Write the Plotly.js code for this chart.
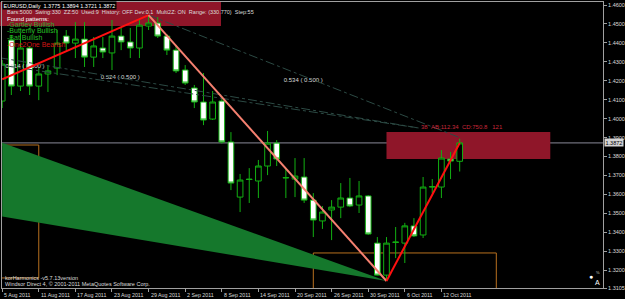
<!DOCTYPE html>
<html><head><meta charset="utf-8">
<script src="https://cdn.plot.ly/plotly-3.0.1.min.js"></script>
<style>html,body{margin:0;padding:0;background:#000;}#chart{width:625px;height:299px;}</style>
</head><body><div id="chart"></div>
<script>
// ---- data ----
const dates = ['2011-08-05','2011-08-08','2011-08-09','2011-08-10','2011-08-11','2011-08-12','2011-08-15','2011-08-16','2011-08-17','2011-08-18','2011-08-19','2011-08-22','2011-08-23','2011-08-24','2011-08-25','2011-08-26','2011-08-29','2011-08-30','2011-08-31','2011-09-01','2011-09-02','2011-09-05','2011-09-06','2011-09-07','2011-09-08','2011-09-09','2011-09-12','2011-09-13','2011-09-14','2011-09-15','2011-09-16','2011-09-19','2011-09-20','2011-09-21','2011-09-22','2011-09-23','2011-09-26','2011-09-27','2011-09-28','2011-09-29','2011-09-30','2011-10-03','2011-10-04','2011-10-05','2011-10-06','2011-10-07','2011-10-10','2011-10-11','2011-10-12','2011-10-13','2011-10-14'];
const open  = [1.4093,1.4415,1.4172,1.4373,1.4172,1.4236,1.4267,1.4436,1.4399,1.4420,1.4325,1.4373,1.4347,1.4436,1.4405,1.4373,1.4489,1.4505,1.4436,1.4362,1.4257,1.4162,1.4088,1.3998,1.4093,1.3877,1.3586,1.3681,1.3671,1.3750,1.3871,1.3687,1.3681,1.3692,1.3570,1.3460,1.3518,1.3533,1.3581,1.3544,1.3592,1.3343,1.3174,1.3349,1.3343,1.3434,1.3386,1.3639,1.3639,1.3787,1.3775];
const high  = [1.4310,1.4442,1.4452,1.4384,1.4267,1.4283,1.4468,1.4468,1.4510,1.4510,1.4431,1.4431,1.4521,1.4479,1.4479,1.4531,1.4547,1.4537,1.4447,1.4389,1.4283,1.4178,1.4241,1.4146,1.4109,1.3929,1.3708,1.3739,1.3782,1.3935,1.3887,1.3739,1.3792,1.3792,1.3607,1.3539,1.3570,1.3660,1.3687,1.3671,1.3597,1.3375,1.3375,1.3428,1.3450,1.3475,1.3692,1.3681,1.3834,1.3824,1.3894];
const low   = [1.4056,1.4125,1.4146,1.4125,1.4098,1.4141,1.4230,1.4362,1.4320,1.4273,1.4273,1.4320,1.4257,1.4362,1.4320,1.4320,1.4468,1.4426,1.4336,1.4241,1.4178,1.4056,1.3966,1.3993,1.3869,1.3623,1.3507,1.3555,1.3581,1.3702,1.3750,1.3581,1.3586,1.3555,1.3375,1.3418,1.3359,1.3475,1.3533,1.3502,1.3386,1.3172,1.3143,1.3264,1.3238,1.3375,1.3370,1.3607,1.3581,1.3681,1.3721];
const close = [1.4288,1.4172,1.4373,1.4172,1.4236,1.4252,1.4399,1.4399,1.4420,1.4325,1.4384,1.4352,1.4436,1.4405,1.4373,1.4494,1.4505,1.4436,1.4362,1.4252,1.4188,1.4088,1.3993,1.4088,1.3877,1.3660,1.3676,1.3679,1.3750,1.3871,1.3787,1.3689,1.3697,1.3570,1.3465,1.3507,1.3533,1.3581,1.3539,1.3592,1.3391,1.3174,1.3343,1.3347,1.3434,1.3381,1.3639,1.3641,1.3792,1.3776,1.3872];

const tickDates  = ['2011-08-05','2011-08-11','2011-08-17','2011-08-23','2011-08-29','2011-09-02','2011-09-08','2011-09-14','2011-09-20','2011-09-26','2011-09-30','2011-10-06','2011-10-12'];
const tickLabels = ['5 Aug 2011','11 Aug 2011','17 Aug 2011','23 Aug 2011','29 Aug 2011','2 Sep 2011','8 Sep 2011','14 Sep 2011','20 Sep 2011','26 Sep 2011','30 Sep 2011','6 Oct 2011','12 Oct 2011'];
const priceTicks = [1.32,1.33,1.34,1.35,1.36,1.37,1.38,1.39,1.40,1.41,1.42,1.43,1.44,1.45,1.46];
const priceTickLabels = ['1.3200','1.3300','1.3400','1.3500','1.3600','1.3700','1.3800','1.3900','1.4000','1.4100','1.4200','1.4300','1.4400','1.4500','1.4600'];
const bottomPrice = 1.3106, bottomPriceLabel = '1.3105';

// pattern drawing objects (bar index, price)
const xaBar = [0, 16],  xaPrice = [1.4208, 1.4547];
const adBar = [16, 42], adPrice = [1.4547, 1.3143];
const dcBar = [42, 50], dcPrice = [1.3143, 1.3872];
const dashA_Bar = [-19.7, 45.5], dashA_Price = [1.4479, 1.3951];
const dashB_Bar = [-40.4, 45.5], dashB_Price = [1.4576, 1.3951];
const dashC_Bar = [16, 50],      dashC_Price = [1.4547, 1.3900];
const triBar = [0, 42, 0], triPrice = [1.3873, 1.3143, 1.3484];
const ratioText  = ['0.514 ( 0.500 )', '0.524 ( 0.500 )', '0.534 ( 0.500 )'];
const ratioBar   = [2.5, 12.9, 32.9];
const ratioPrice = [1.4273, 1.4215, 1.4199];
const przBar = [42, 59.9], przPrice = [1.3787, 1.3929];
const rect1Bar = [-3, 4],  rect1Price = [1.3159, 1.3861];
const rect2Bar = [34, 54], rect2Price = [1.2900, 1.3291];
const przText = '38\u00a0\u00a0AB:112.34\u00a0\u00a0CD:750.8\u00a0\u00a0\u00a0121';
const infoLine = 'Bars:5000\u00a0\u00a0Swing:330\u00a0\u00a0ZZ:50\u00a0\u00a0Used:9\u00a0\u00a0History:\u00a0OFF\u00a0Dev:0.1\u00a0\u00a0Multi2Z:\u00a0ON\u00a0\u00a0Range:\u00a0(330.770)\u00a0\u00a0Step:55';
const foundPatterns = ['-Gartley Bullish', '-Butterfly Bullish', '-Bat Bullish', '-One2One Bearish'];
const patternColors = ['#2fa82f', '#26c026', '#26b826', '#d01515'];

// ---- layout helpers ----
const L = 2, R = 22, T = 2, B = 11, W = 625, H = 299;
const plotW = W - L - R, plotH = H - T - B;
const px = v => (v - L) / plotW;
const py = v => (H - B - v) / plotH;

const barIndex = dates.map((d, i) => i);
const green = '#12b012';
const txt = '#dcdcdc';
const dashCol = '#2c4a44';
const F = 'Liberation Sans, Arial, sans-serif';

const traces = [
  {type:'scatter', mode:'lines', x: triBar, y: triPrice, fill:'toself', fillcolor:'#15782c', line:{width:0, color:'#15782c'}, hoverinfo:'skip'},
  {type:'scatter', mode:'text', x: ratioBar, y: ratioPrice, text: ratioText, textfont:{size:6, color:txt, family:F}, hoverinfo:'skip'},
  {type:'scatter', mode:'lines', x: dashA_Bar, y: dashA_Price, line:{color:dashCol, width:1, dash:'dashdot'}, hoverinfo:'skip'},
  {type:'scatter', mode:'lines', x: dashB_Bar, y: dashB_Price, line:{color:dashCol, width:1, dash:'dashdot'}, hoverinfo:'skip'},
  {type:'scatter', mode:'lines', x: dashC_Bar, y: dashC_Price, line:{color:dashCol, width:1, dash:'dashdot'}, hoverinfo:'skip'},
  {type:'candlestick', x: barIndex, open: open, high: high, low: low, close: close,
   increasing:{line:{color:green, width:1}, fillcolor:'#000000'},
   decreasing:{line:{color:green, width:1}, fillcolor:'#ffffff'},
   whiskerwidth:0, hoverinfo:'skip'},
  {type:'scatter', mode:'lines', x: xaBar, y: xaPrice, line:{color:'#ff1010', width:2}, hoverinfo:'skip'},
  {type:'scatter', mode:'lines', x: adBar, y: adPrice, line:{color:'#f58070', width:2}, hoverinfo:'skip'},
  {type:'scatter', mode:'lines', x: dcBar, y: dcPrice, line:{color:'#ff1010', width:2}, hoverinfo:'skip'}
];

const shapes = [
  {type:'rect', xref:'paper', yref:'paper', x0: px(0), x1: px(221), y0: py(26), y1: py(2), fillcolor:'#8f1629', line:{width:0}, layer:'below'},
  {type:'rect', xref:'x', yref:'y', x0: przBar[0], x1: przBar[1], y0: przPrice[0], y1: przPrice[1], fillcolor:'#8f1629', line:{width:0}, layer:'below'},
  {type:'rect', xref:'x', yref:'y', x0: rect1Bar[0], x1: rect1Bar[1], y0: rect1Price[0], y1: rect1Price[1], line:{color:'#b8701e', width:1}, layer:'below'},
  {type:'rect', xref:'x', yref:'y', x0: rect2Bar[0], x1: rect2Bar[1], y0: rect2Price[0], y1: rect2Price[1], line:{color:'#b8701e', width:1}, layer:'below'},
  {type:'line', xref:'paper', yref:'y', x0: 0, x1: 1, y0: close[close.length-1], y1: close[close.length-1], line:{color:'#8a8a98', width:1}, layer:'below'}
];

const last = close.length - 1;
const annotations = [];
annotations.push({xref:'paper', yref:'paper', x: px(2), y: py(6), xanchor:'left', yanchor:'middle', showarrow:false,
  text: 'EURUSD,Daily\u00a0\u00a0' + [open[last], high[last], low[last], close[last]].map(v => v.toFixed(4)).join('\u00a0'),
  font:{size:5.5, color:'#ffffff', family:F}, bgcolor:'#000000', borderpad:0.5});
annotations.push({xref:'paper', yref:'paper', x: px(5), y: py(12.5), xanchor:'left', yanchor:'middle', showarrow:false,
  text: infoLine, font:{size:5.5, color:txt, family:F}});
annotations.push({xref:'paper', yref:'paper', x: px(5), y: py(19), xanchor:'left', yanchor:'middle', showarrow:false,
  text: 'Found patterns:', font:{size:6, color:'#ffffff', family:F}});
const patY = [25, 31.5, 38, 45];
foundPatterns.forEach((p, i) => annotations.push({xref:'paper', yref:'paper', x: px(5), y: py(patY[i]), xanchor:'left', yanchor:'middle', showarrow:false,
  text: p, font:{size:7, color: patternColors[i], family:F}}));
annotations.push({xref:'x', yref:'y', x: 45.5, y: 1.3956, xanchor:'left', yanchor:'middle', showarrow:false,
  text: przText, font:{size:6, color:'#c8283a', family:F}});
annotations.push({xref:'paper', yref:'paper', x: px(3), y: py(277.5), xanchor:'left', yanchor:'middle', showarrow:false,
  text: 'korHarmonics -v5.7.13version', font:{size:5.5, color:txt, family:F}});
annotations.push({xref:'paper', yref:'paper', x: px(3), y: py(284), xanchor:'left', yanchor:'middle', showarrow:false,
  text: 'Windsor Direct 4, \u00a9 2001-2011 MetaQuotes Software Corp.', font:{size:5.5, color:txt, family:F}});
annotations.push({xref:'paper', yref:'paper', x: px(591), y: py(276.5), xanchor:'center', yanchor:'middle', showarrow:false,
  text: '\u25CF', font:{size:7, color:'#ffffff', family:F}});
annotations.push({xref:'paper', yref:'paper', x: px(597), y: py(282.5), xanchor:'center', yanchor:'middle', showarrow:false,
  text: 'A', font:{size:7, color:'#ffffff', family:F}});
annotations.push({xref:'paper', yref:'paper', x: px(598), y: py(272), xanchor:'center', yanchor:'middle', showarrow:false,
  text: '%', font:{size:4, color:'#cccccc', family:F}});
// bid price box
annotations.push({xref:'paper', yref:'y', x: 1, y: close[last], xanchor:'left', yanchor:'middle', xshift:1, showarrow:false,
  text: close[last].toFixed(4), font:{size:5.5, color:'#000000', family:F}, bgcolor:'#d4d4d4', borderpad:0.5});
// date labels
tickDates.forEach((d, i) => annotations.push({xref:'x', yref:'paper', x: dates.indexOf(d), y: 0, xanchor:'left', yanchor:'top', xshift:0, yshift:-2,
  showarrow:false, text: tickLabels[i], font:{size:5.3, color:txt, family:F}}));

const layout = {
  width: W, height: H,
  margin: {l:L, r:R, t:T, b:B, pad:0},
  paper_bgcolor:'#000000', plot_bgcolor:'#000000',
  showlegend:false, hovermode:false, dragmode:false,
  boxgap:0.38, boxgroupgap:0,
  font:{family:F, color:txt},
  xaxis:{type:'linear', range:[-0.02, 65.66], showgrid:false, zeroline:false,
    showline:true, mirror:true, linecolor:'#a0a0a0', linewidth:1,
    ticks:'outside', ticklen:3, tickcolor:'#a0a0a0', tickvals: tickDates.map(d => dates.indexOf(d)), showticklabels:false,
    rangeslider:{visible:false}, fixedrange:true},
  yaxis:{side:'right', range:[1.3106, 1.4616], showgrid:false, zeroline:false,
    showline:true, mirror:true, linecolor:'#a0a0a0', linewidth:1,
    ticks:'outside', ticklen:3, tickcolor:'#a0a0a0',
    tickvals: priceTicks.concat([bottomPrice]), ticktext: priceTickLabels.concat([bottomPriceLabel]),
    tickfont:{size:5.5, color:txt, family:F}, fixedrange:true},
  shapes: shapes,
  annotations: annotations
};

Plotly.newPlot('chart', traces, layout, {staticPlot:true, displayModeBar:false});
</script></body></html>
